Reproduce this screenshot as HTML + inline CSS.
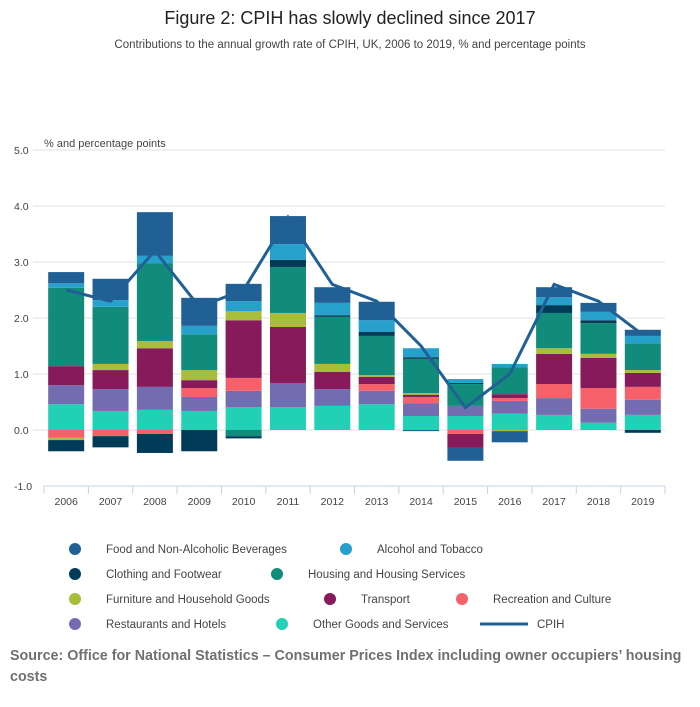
<!DOCTYPE html>
<html><head><meta charset="utf-8">
<style>
body{margin:0;background:#fff;font-family:"Liberation Sans",sans-serif;}
#wrap{position:relative;width:700px;height:707px;overflow:hidden;}
</style></head>
<body>
<div id="wrap">
<svg id="chart" width="700" height="707">
<text x="350" y="24" text-anchor="middle" font-size="18" fill="#222">Figure 2: CPIH has slowly declined since 2017</text>
<text x="350" y="48" text-anchor="middle" font-size="11.5" fill="#444">Contributions to the annual growth rate of CPIH, UK, 2006 to 2019, % and percentage points</text>
<text x="44" y="147" font-size="11" fill="#444">% and percentage points</text>
<g id="grid"></g><g id="bars"></g><g id="line"></g><g id="xaxis"></g><g id="legend"></g>
<text x="10" y="660" font-size="14.3" font-weight="bold" fill="#707070">Source: Office for National Statistics – Consumer Prices Index including owner occupiers’ housing</text>
<text x="10" y="681" font-size="14.3" font-weight="bold" fill="#707070">costs</text>
</svg>
</div>
<script>
const years=["2006","2007","2008","2009","2010","2011","2012","2013","2014","2015","2016","2017","2018","2019"];
const other=[.46,.34,.36,.34,.41,.41,.43,.46,.25,.25,.29,.27,.13,.27];
const restaurants=[.34,.39,.41,.25,.29,.43,.30,.24,.23,.18,.23,.30,.25,.27];
const recreation=[-.14,-.11,-.07,.16,.23,0,0,.12,.11,-.07,.05,.25,.37,.23];
const transport=[.34,.34,.69,.14,1.03,1.0,.31,.13,.04,-.25,.07,.54,.54,.25];
const furniture=[-.04,.11,.13,.18,.16,.25,.14,.03,.03,0,-.02,.10,.07,.05];
const housing=[1.40,1.02,1.39,.64,-.11,.82,.84,.70,.61,.39,.47,.63,.55,.48];
const clothing=[-.20,-.20,-.34,-.38,-.04,.13,.03,.07,.03,.02,.01,.14,.05,-.05];
const alcohol=[.08,.12,.13,.15,.18,.28,.22,.21,.16,.07,.06,.14,.15,.13];
const food=[.20,.38,.78,.50,.31,.50,.28,.33,-.02,-.23,-.20,.18,.16,.11];
const cpih=[2.5,2.3,3.2,2.2,2.5,3.8,2.6,2.3,1.5,0.4,1.0,2.6,2.3,1.7];
const yTicks=[5,4,3,2,1,0,-1];
const yTickLabels=["5.0","4.0","3.0","2.0","1.0","0.0","-1.0"];

const NS="http://www.w3.org/2000/svg";
function mk(t,a,p){const e=document.createElementNS(NS,t);for(const k in a)e.setAttribute(k,a[k]);p.appendChild(e);return e;}
const x0=44,x1=665,bw=(x1-x0)/years.length;
function y(v){return 430-v*56;}
function xc(i){return x0+bw*(i+0.5);}
const G=document.getElementById('grid');
yTicks.forEach((v,i)=>{
  if(v!==-1){const l=mk('line',{x1:33,x2:x1,y1:y(v),y2:y(v),stroke:'#e2e2e2','stroke-width':1},G);
  
  }
  const t=mk('text',{x:14,y:y(v)+4,'font-size':10.5,fill:'#444'},G);t.textContent=yTickLabels[i];
  
  
});
const series=[
 ["other",other,"#22d0b6"],["restaurants",restaurants,"#746cb1"],["recreation",recreation,"#f66068"],
 ["transport",transport,"#871a5b"],["furniture",furniture,"#a8bd3a"],["housing",housing,"#118c7b"],
 ["clothing",clothing,"#003c57"],["alcohol",alcohol,"#27a0cc"],["food",food,"#206095"]];
const B=document.getElementById('bars');
years.forEach((yr,i)=>{
  let pos=0,neg=0;
  series.forEach(([n,arr,c])=>{
    const v=arr[i];if(!v)return;
    let a,b;
    if(v>0){a=pos;b=pos+v;pos=b;}else{a=neg;b=neg+v;neg=b;}
    const r=mk('rect',{x:xc(i)-18,width:36,y:Math.min(y(a),y(b)),height:Math.abs(y(a)-y(b)),fill:c},B);
    
    
  });
});
const L=document.getElementById('line');
const pl=mk('polyline',{points:cpih.map((v,i)=>xc(i)+','+y(v)).join(' '),fill:'none',stroke:'#206095','stroke-width':3},L);


const X=document.getElementById('xaxis');
const ax=mk('line',{x1:x0,x2:x1,y1:486,y2:486,stroke:'#c5d3e6','stroke-width':1},X);


for(let i=0;i<=years.length;i++){
  mk('line',{x1:x0+bw*i,x2:x0+bw*i,y1:486,y2:494,stroke:'#c5d3e6','stroke-width':1},X);
}
years.forEach((yr,i)=>{const t=mk('text',{x:xc(i),y:505,'text-anchor':'middle','font-size':10.5,fill:'#444'},X);t.textContent=yr;
  
  });
const legendItems=[
 ["Food and Non-Alcoholic Beverages","#206095",75,549],["Alcohol and Tobacco","#27a0cc",346,549],
 ["Clothing and Footwear","#003c57",75,574],["Housing and Housing Services","#118c7b",277,574],
 ["Furniture and Household Goods","#a8bd3a",75,599],["Transport","#871a5b",330,599],["Recreation and Culture","#f66068",462,599],
 ["Restaurants and Hotels","#746cb1",75,624],["Other Goods and Services","#22d0b6",282,624]];
const LG=document.getElementById('legend');
legendItems.forEach(([name,c,cx,cy])=>{
  const g=mk('g',{},LG);
  
  
  mk('circle',{cx:cx,cy:cy,r:6,fill:c},g);
  const t=mk('text',{x:cx+31,y:cy+4,'font-size':11.5,fill:'#444'},g);t.textContent=name;
});
const gl=mk('g',{},LG);


mk('line',{x1:480,x2:528,y1:624,y2:624,stroke:'#206095','stroke-width':3},gl);
const tl=mk('text',{x:537,y:628,'font-size':11.5,fill:'#444'},gl);tl.textContent="CPIH";
</script>
</body></html>
